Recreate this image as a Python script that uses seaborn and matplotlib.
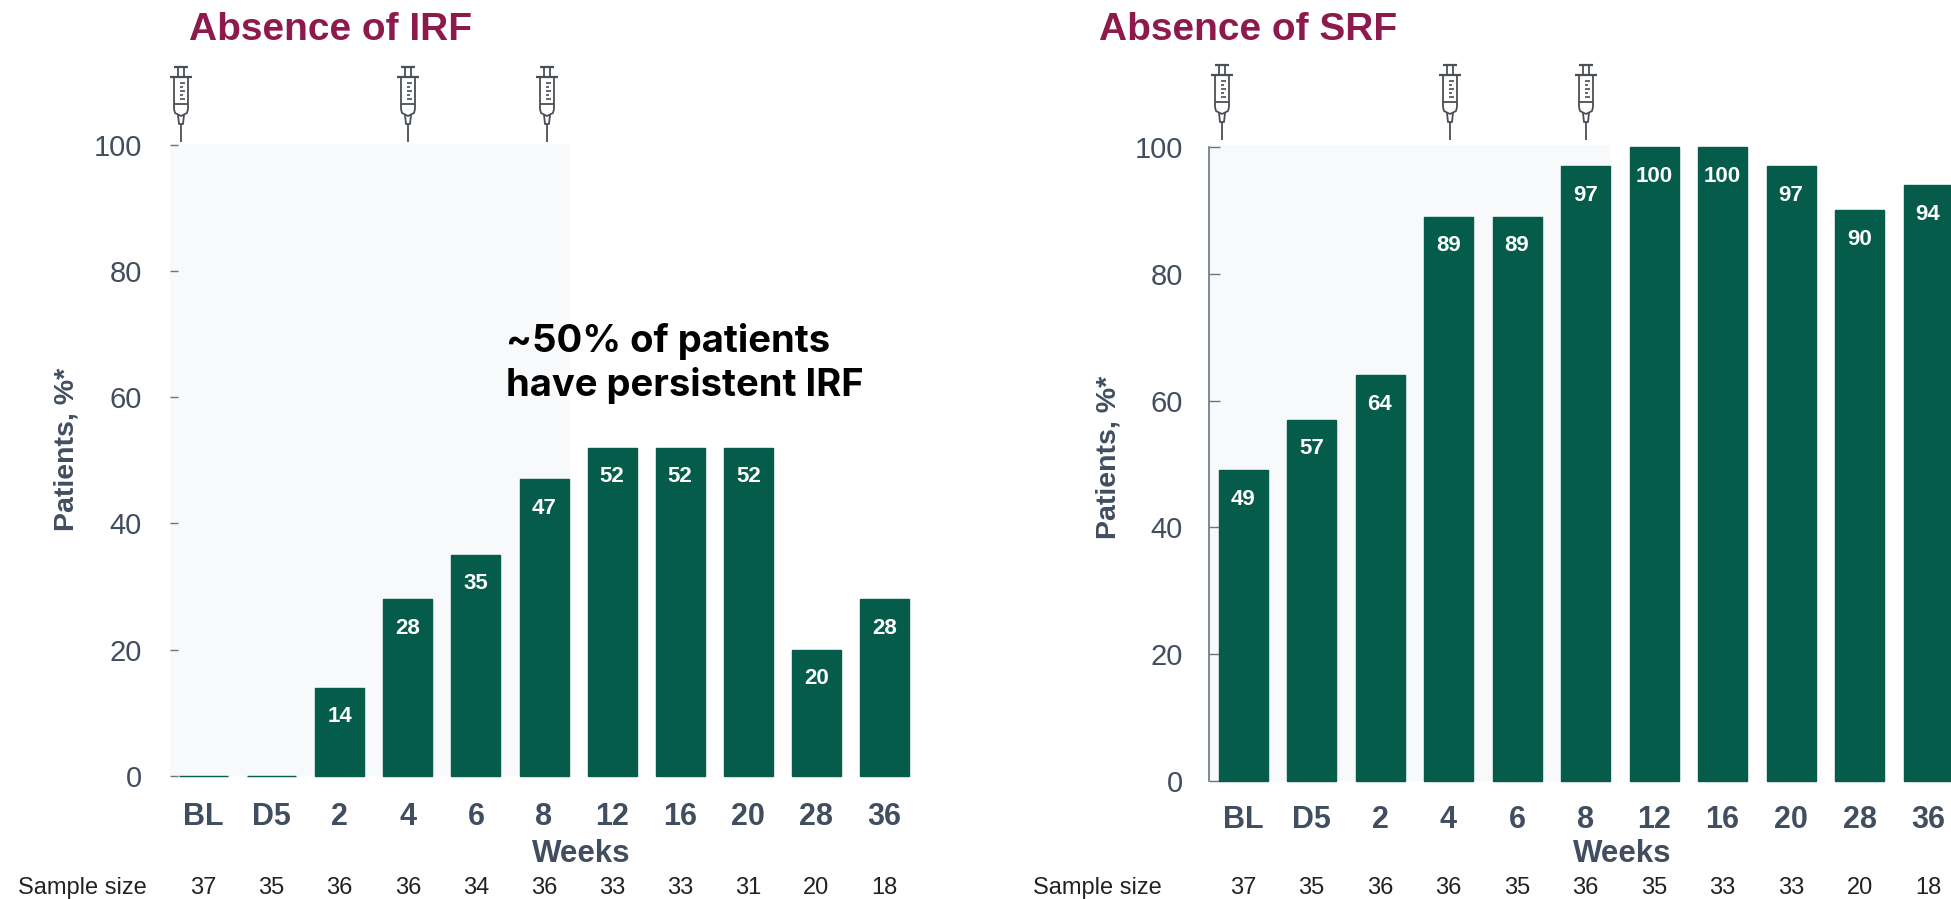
import matplotlib
matplotlib.use("Agg")
import matplotlib.pyplot as plt
from matplotlib.lines import Line2D
from matplotlib.patches import Rectangle
from matplotlib.transforms import Affine2D
import seaborn as sns

weeks = ["BL", "D5", "2", "4", "6", "8", "12", "16", "20", "28", "36"]
irf_values = [0, 0, 14, 28, 35, 47, 52, 52, 52, 20, 28]
srf_values = [49, 57, 64, 89, 89, 97, 100, 100, 97, 90, 94]
irf_sample = [37, 35, 36, 36, 34, 36, 33, 33, 31, 20, 18]
srf_sample = [37, 35, 36, 36, 35, 36, 35, 33, 33, 20, 18]
y_ticks = [0, 20, 40, 60, 80, 100]

W, H = 1951, 899
GREEN = "#055C4A"
GREY = "#414E60"
TITLE = "#8E1A4D"
SHADE = "#F7F9FB"

sns.set_theme(style="white")
plt.rcParams["font.family"] = ["Liberation Sans", "DejaVu Sans"]

fig = plt.figure(figsize=(W / 100, H / 100), dpi=100, facecolor="white")
# transform: reference pixels (origin top-left) to display
PX = Affine2D().scale(1, -1).translate(0, H)


def syringe(cx, top):
    c = "#4a4f55"
    def ln(xs, ys, lw=1.3):
        fig.add_artist(Line2D([cx + x for x in xs], [top + y for y in ys], color=c, lw=lw,
                              transform=PX, solid_capstyle="butt"))
    ln([-7, 7], [0, 0], 1.6)
    ln([-3, -3], [0, 10]); ln([3, 3], [0, 10])
    ln([-11, 11], [10, 10], 1.6)
    ln([-7, -7, -6, 0, 6, 7, 7], [10, 42, 46, 49, 46, 42, 10])
    ln([-7, 7], [37, 37])
    for i, y in enumerate([16, 20, 24, 28, 32]):
        ln([-1, 4 if i % 2 == 0 else 2], [y, y], 1.2)
    ln([-3, -2, 2, 3], [48, 57, 57, 48])
    ln([0, 0], [57, 75])


def panel(left, right, y0, y100, x0_px, step, values, sample, title, title_x, syringes,
          syr_top, shade_right, shade_top, show_spine, ylab_x, ylab_y, tick_y, weeks_x, weeks_y,
          sample_x, sample_y, tick_len, pad_px):
    fig.add_artist(Rectangle((left, y0), shade_right - left, shade_top - y0, transform=PX,
                             facecolor=SHADE, edgecolor="none", zorder=-1))
    ax = fig.add_axes([left / W, 1 - y0 / H, (right - left) / W, (y0 - y100) / H])
    ax.patch.set_alpha(0)
    sns.barplot(x=weeks, y=values, color=GREEN, saturation=1, width=49 / step, ax=ax,
                edgecolor=GREEN, linewidth=1)
    for bar in ax.patches:
        bar.set_clip_on(False)
    ax.set_xlim((left - x0_px) / step, (right - x0_px) / step)
    ax.set_ylim(0, 100)
    ax.set_yticks(y_ticks)
    sns.despine(ax=ax, top=True, right=True, bottom=True, left=not show_spine)
    ax.spines["left"].set_color("#6C7480")
    ax.spines["left"].set_linewidth(1.2)
    ax.tick_params(axis="y", direction="in", length=tick_len * 0.72, width=1, color="#6C7480",
                   labelsize=21, labelcolor=GREY, pad=pad_px * 0.72, left=True)
    ax.tick_params(axis="x", length=0, labelsize=22, labelcolor=GREY, pad=(tick_y - y0 - 11) * 0.72)
    for lab in ax.get_xticklabels():
        lab.set_fontweight("bold")
    ax.set_xlabel(""); ax.set_ylabel("")
    for i, v in enumerate(values):
        if v > 0:
            ax.annotate(str(v), (i, v), xytext=(0, -29 * 0.72), textcoords="offset points",
                        ha="center", va="center", color="white", fontsize=16, fontweight="bold")
    for i, n in enumerate(sample):
        fig.text(x0_px + i * step, sample_y, str(n), transform=PX, ha="center", va="center",
                 fontsize=17, color="#222222")
    fig.text(sample_x, sample_y, "Sample size", transform=PX, ha="left", va="center",
             fontsize=17, color="#222222")
    fig.text(weeks_x, weeks_y, "Weeks", transform=PX, ha="center", va="center",
             fontsize=22.5, fontweight="bold", color=GREY)
    fig.text(ylab_x, ylab_y, "Patients, %*", transform=PX, rotation=90, ha="center", va="center",
             fontsize=20.5, fontweight="bold", color=GREY)
    fig.text(title_x, 30, title, transform=PX, ha="left", va="center",
             fontsize=28, fontweight="bold", color=TITLE)
    for cx in syringes:
        syringe(cx, syr_top)
    return ax


panel(170, 915, 776, 144.5, 203.5, 68.1, irf_values, irf_sample, "Absence of IRF", 189,
      [181, 408, 547], 67, 570, 144, False, 66, 449, 813, 581, 854, 18, 888, 8, 28)
panel(1209, 1960, 781, 147, 1243, 68.5, srf_values, srf_sample, "Absence of SRF", 1099,
      [1222, 1450, 1586], 65, 1610, 145, True, 1108, 457, 816, 1622, 854, 1033, 888, 11, 26)

fig.text(506, 342, "~50% of patients", transform=PX, ha="left", va="center",
         fontsize=27.5, fontweight="bold", family="Inter", color="black")
fig.text(506, 386, "have persistent IRF", transform=PX, ha="left", va="center",
         fontsize=27.5, fontweight="bold", family="Inter", color="black")

fig.savefig("out.png", dpi=100)
